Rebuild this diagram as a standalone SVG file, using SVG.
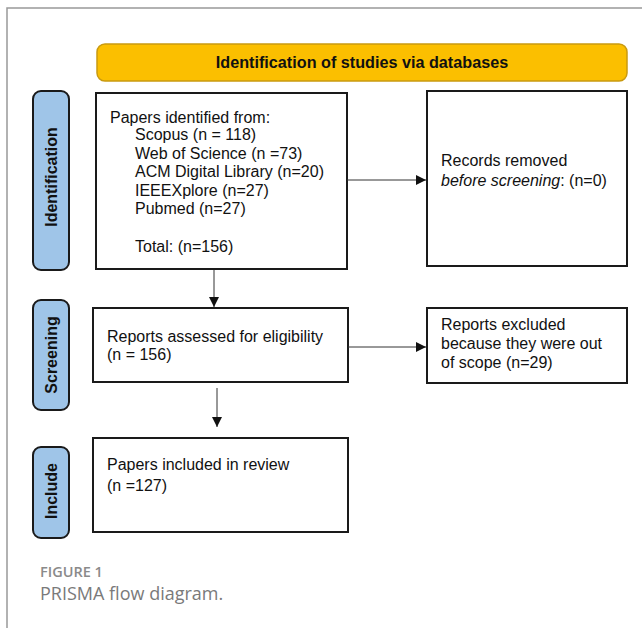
<svg xmlns="http://www.w3.org/2000/svg" width="642" height="628" viewBox="0 0 642 628">
<defs>
<style>
.t{font-family:"Liberation Sans",Arial,sans-serif;font-size:16px;fill:#111}
.box{fill:#fff;stroke:#1a1a1a;stroke-width:2}
.side{fill:#9fc5e8;stroke:#1a1a1a;stroke-width:2}
.sl{font-family:"Liberation Sans",Arial,sans-serif;font-size:16px;font-weight:bold;fill:#111;text-anchor:middle}
.ln{stroke:#333;stroke-width:1;fill:none}
</style>
<marker id="ah" viewBox="0 0 10 10" refX="10" refY="5" markerWidth="10" markerHeight="10" markerUnits="userSpaceOnUse" orient="auto">
<path d="M0,0 L10,5 L0,10 z" fill="#111"/>
</marker>
</defs>
<rect width="642" height="628" fill="#fff"/>
<path d="M7,628 V8 H642" fill="none" stroke="#999" stroke-width="1.5"/>
<g id="banner">
<rect x="97" y="44" width="530" height="37" rx="8" fill="#fbbf00" stroke="#c99a10" stroke-width="1.5"/>
<text x="362" y="68" class="sl" style="font-size:16.2px">Identification of studies via databases</text>
</g>
<g id="stage-identification">
<rect x="33" y="91" width="36" height="179" rx="8" class="side"/>
<text class="sl" transform="translate(57,177) rotate(-90)">Identification</text>
</g>
<g id="stage-screening">
<rect x="33" y="300" width="36" height="110" rx="8" class="side"/>
<text class="sl" transform="translate(57,355) rotate(-90)">Screening</text>
</g>
<g id="stage-include">
<rect x="33" y="447" width="36" height="91" rx="8" class="side"/>
<text class="sl" transform="translate(57,491) rotate(-90)">Include</text>
</g>
<g id="identified">
<rect x="96" y="93" width="251" height="176" class="box"/>
<text class="t" x="110" y="122.5">Papers identified from:</text>
<text class="t" x="135" y="140">Scopus (n = 118)</text>
<text class="t" x="135" y="158.5">Web of Science (n =73)</text>
<text class="t" x="135" y="177">ACM Digital Library (n=20)</text>
<text class="t" x="135" y="195.5">IEEEXplore (n=27)</text>
<text class="t" x="135" y="214">Pubmed (n=27)</text>
<text class="t" x="135" y="251.5">Total: (n=156)</text>
</g>
<g id="removed">
<rect x="427" y="91" width="200" height="175" class="box"/>
<text class="t" x="441" y="165.5">Records removed</text>
<text class="t" x="441" y="185.5"><tspan font-style="italic">before screening</tspan>: (n=0)</text>
</g>
<g id="assessed">
<rect x="93" y="308" width="255" height="74" class="box"/>
<text class="t" x="107" y="341.5">Reports assessed for eligibility</text>
<text class="t" x="107" y="360">(n = 156)</text>
</g>
<g id="excluded">
<rect x="427" y="308" width="200" height="75" class="box"/>
<text class="t" x="441" y="330">Reports excluded</text>
<text class="t" x="441" y="349">because they were out</text>
<text class="t" x="441" y="368">of scope (n=29)</text>
</g>
<g id="included">
<rect x="93" y="438" width="255" height="94" class="box"/>
<text class="t" x="107" y="470">Papers included in review</text>
<text class="t" x="107" y="491">(n =127)</text>
</g>
<g id="connectors">
<line class="ln" x1="347" y1="180" x2="426" y2="180" marker-end="url(#ah)"/>
<line class="ln" x1="214" y1="270" x2="214" y2="307" marker-end="url(#ah)"/>
<line class="ln" x1="348" y1="347" x2="426" y2="347" marker-end="url(#ah)"/>
<line class="ln" x1="217" y1="388" x2="217" y2="427" marker-end="url(#ah)"/>
</g>
<g id="caption">
<text x="40" y="577" style="font-family:'Open Sans',sans-serif;font-size:14.5px;font-weight:600;fill:#8a8a8a">FIGURE 1</text>
<text x="40" y="600" style="font-family:'Open Sans',sans-serif;font-size:18px;fill:#7a7a7a">PRISMA flow diagram.</text>
</g>
</svg>
